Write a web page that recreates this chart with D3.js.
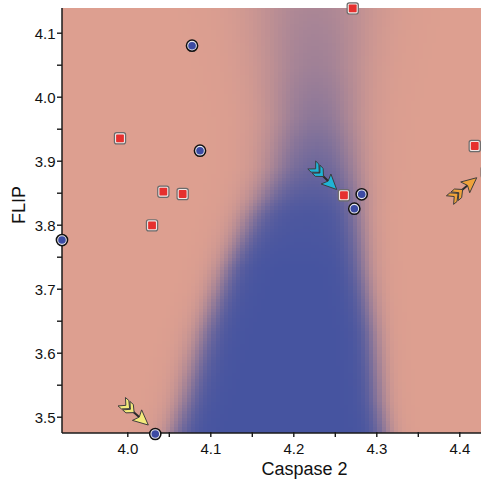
<!DOCTYPE html>
<html>
<head>
<meta charset="utf-8">
<script src="https://cdn.jsdelivr.net/npm/d3@7"></script>
<style>
  html, body { margin: 0; padding: 0; background: #fff; }
  svg { display: block; }
  text { font-family: "Liberation Sans", Arial, Helvetica, sans-serif; fill: #111; }
</style>
</head>
<body>
<svg id="chart" width="481" height="483"></svg>
<script>
// ---------- data ----------
// Blue (class) probability field
const fieldY     = [3.4745, 3.526, 3.631, 3.734, 3.818, 3.839, 3.890, 3.968, 4.046, 4.138];
const fieldLeft  = [4.0560, 4.070, 4.0920, 4.1200, 4.150, 4.160, 4.178, 4.186, 4.180, 4.170];
const fieldRight = [4.310, 4.3030, 4.2960, 4.2840, 4.278, 4.277, 4.272, 4.267, 4.270, 4.278];
const fieldPeak  = [1.0, 1.0, 1.0, 1.0, 0.96, 0.92, 0.8, 0.64, 0.5, 0.4];
const fieldSoftL = [0.010, 0.010, 0.010, 0.010, 0.012, 0.013, 0.015, 0.018, 0.021, 0.024];
const fieldSoftR = [0.008, 0.008, 0.008, 0.009, 0.010, 0.011, 0.013, 0.016, 0.019, 0.022];

// Class "blue" samples (circles)
const blueX = [4.078, 4.0876, 3.9213, 4.0337, 4.2824, 4.2735];
const blueY = [4.0797, 3.9156, 3.776, 3.473, 3.8475, 3.825];
// Class "red" samples (squares)
const redX = [3.9912, 4.0434, 4.0667, 4.0298, 4.2716, 4.261, 4.4186, 4.433];
const redY = [3.935, 3.8516, 3.848, 3.799, 4.138, 3.846, 3.923, 3.882];
// Arrows (tail -> tip)
const arrowName  = ["yellow", "cyan", "orange"];
const arrowTailX = [3.9933, 4.2222, 4.3888];
const arrowTailY = [3.5234, 3.8933, 3.8385];
const arrowTipX  = [4.0253, 4.2523, 4.421];
const arrowTipY  = [3.487, 3.855, 3.8734];

const xMajor = [4.0, 4.1, 4.2, 4.3, 4.4];
const xMinor = [4.05, 4.15, 4.25, 4.35];
const yMajor = [3.5, 3.6, 3.7, 3.8, 3.9, 4.0, 4.1];
const yMinor = [3.55, 3.65, 3.75, 3.85, 3.95, 4.05];
const xTitle = "Caspase 2";
const yTitle = "FLIP";

// ---------- styles ----------
const PINK = "rgb(221,159,144)";
const BLUE = "rgb(70,84,160)";
const arrowFill = { yellow: "#f3ea7c", cyan: "#1fb4d6", orange: "#eea23a" };

// ---------- layout ----------
const plot = { left: 62, top: 8, bottom: 433, right: 481 };
const x = d3.scaleLinear().domain([4.0, 4.4]).range([127.3, 459.3]);
const y = d3.scaleLinear().domain([3.5, 4.1]).range([416.7, 32.7]);

const svg = d3.select("#chart");
svg.append("defs").append("clipPath").attr("id", "plotClip")
  .append("rect")
  .attr("x", plot.left).attr("y", plot.top)
  .attr("width", plot.right - plot.left + 10).attr("height", plot.bottom - plot.top);

// ---------- field ----------
const leftAt  = d3.scaleLinear().domain(fieldY).range(fieldLeft).clamp(true);
const rightAt = d3.scaleLinear().domain(fieldY).range(fieldRight).clamp(true);
const peakAt  = d3.scaleLinear().domain(fieldY).range(fieldPeak).clamp(true);
const softLAt = d3.scaleLinear().domain(fieldY).range(fieldSoftL).clamp(true);
const softRAt = d3.scaleLinear().domain(fieldY).range(fieldSoftR).clamp(true);
const col = d3.interpolateRgb(PINK, BLUE);

const x0 = x.invert(plot.left), x1 = x.invert(plot.right + 6);
const y0 = y.invert(plot.bottom), y1 = y.invert(plot.top);
const dx = 0.005, dy = 0.005;
const cells = [];
for (let yv = y0; yv < y1 + dy; yv += dy) {
  const yc = yv + dy / 2;
  const L = leftAt(yc), R = rightAt(yc), P = peakAt(yc), sL = softLAt(yc), sR = softRAt(yc);
  for (let xv = x0; xv < x1; xv += dx) {
    const xc = xv + dx / 2;
    const fl = 1 / (1 + Math.exp(-(xc - L) / sL));
    const fr = 1 / (1 + Math.exp(-(R - xc) / sR));
    cells.push({ xv, yv, t: Math.min(1, P * fl * fr) });
  }
}
const field = svg.append("g").attr("clip-path", "url(#plotClip)");
field.append("rect")
  .attr("x", plot.left).attr("y", plot.top)
  .attr("width", plot.right - plot.left + 10).attr("height", plot.bottom - plot.top)
  .attr("fill", PINK);
field.selectAll("rect.cell").data(cells.filter(d => d.t > 0.004)).join("rect")
  .attr("class", "cell")
  .attr("x", d => x(d.xv))
  .attr("y", d => y(d.yv + dy))
  .attr("width", x(dx) - x(0) + 0.6)
  .attr("height", y(0) - y(dy) + 0.6)
  .attr("fill", d => col(d.t))
  .attr("shape-rendering", "crispEdges");

// ---------- axes ----------
const axisG = svg.append("g");
axisG.append("line").attr("x1", plot.left).attr("x2", plot.left)
  .attr("y1", plot.top).attr("y2", plot.bottom)
  .attr("stroke", "#1a1a1a").attr("stroke-width", 1.5);
axisG.append("line").attr("x1", plot.left).attr("x2", plot.right)
  .attr("y1", plot.bottom).attr("y2", plot.bottom)
  .attr("stroke", "#1a1a1a").attr("stroke-width", 1.5);

const xAxis = d3.axisBottom(x).tickValues(xMajor.concat(xMinor))
  .tickSize(5).tickSizeOuter(0)
  .tickFormat(d => xMajor.includes(d) ? d3.format(".1f")(d) : "");
const gx = svg.append("g").attr("transform", `translate(0,${plot.bottom - 1})`).call(xAxis);
gx.select(".domain").remove();
gx.selectAll(".tick line").attr("stroke", "#1a1a1a").attr("stroke-width", 1.4);
gx.selectAll(".tick text").attr("font-size", 15).attr("dy", 0).attr("y", 21.5)
  .attr("font-family", "Liberation Sans, Arial, sans-serif").attr("fill", "#111");

const yAxis = d3.axisLeft(y).tickValues(yMajor.concat(yMinor))
  .tickSize(5).tickSizeOuter(0)
  .tickFormat(d => yMajor.includes(d) ? d3.format(".1f")(d) : "");
const gy = svg.append("g").attr("transform", `translate(${plot.left},0)`).call(yAxis);
gy.select(".domain").remove();
gy.selectAll(".tick line").attr("stroke", "#1a1a1a").attr("stroke-width", 1.4);
gy.selectAll(".tick text").attr("font-size", 15).attr("x", -6.5).attr("dy", "0.36em")
  .attr("font-family", "Liberation Sans, Arial, sans-serif").attr("fill", "#111");

svg.append("text").attr("x", 304.5).attr("y", 475).attr("text-anchor", "middle")
  .attr("font-size", 18).text(xTitle);
svg.append("text").attr("transform", "translate(25,205) rotate(-90)").attr("text-anchor", "middle")
  .attr("font-size", 18).text(yTitle);

// ---------- markers ----------
const marks = svg.append("g");
const redPts = redX.map((v, i) => ({ x: v, y: redY[i] }));
const redG = marks.selectAll("g.red").data(redPts).join("g")
  .attr("class", "red")
  .attr("transform", d => `translate(${x(d.x)},${y(d.y)})`);
redG.append("rect").attr("x", -5.6).attr("y", -5.6).attr("width", 11.2).attr("height", 11.2)
  .attr("rx", 2.2).attr("fill", "#f1e6e4").attr("stroke", "#6b6b6b").attr("stroke-width", 1.2);
redG.append("rect").attr("x", -3.9).attr("y", -3.9).attr("width", 7.8).attr("height", 7.8)
  .attr("rx", 0.8).attr("fill", "#e6302e");

const bluePts = blueX.map((v, i) => ({ x: v, y: blueY[i] }));
const blueG = marks.selectAll("g.blue").data(bluePts).join("g")
  .attr("class", "blue")
  .attr("transform", d => `translate(${x(d.x)},${y(d.y)})`);
blueG.append("circle").attr("r", 5.6).attr("fill", "#e8e8f0").attr("stroke", "#111").attr("stroke-width", 1.5);
blueG.append("circle").attr("r", 3.8).attr("fill", "#3c4ba3");

// ---------- arrows ----------
const arrows = arrowName.map((n, i) => ({
  n, tx: x(arrowTailX[i]), ty: y(arrowTailY[i]), hx: x(arrowTipX[i]), hy: y(arrowTipY[i])
}));
const arrowG = marks.selectAll("g.arrow").data(arrows).join("g")
  .attr("class", "arrow")
  .attr("transform", d => {
    const ang = Math.atan2(d.hy - d.ty, d.hx - d.tx) * 180 / Math.PI;
    return `translate(${d.hx},${d.hy}) rotate(${ang})`;
  });
arrowG.each(function (d) {
  const g = d3.select(this);
  const L = Math.hypot(d.hx - d.tx, d.hy - d.ty);
  const fill = arrowFill[d.n];
  // shaft
  g.append("line").attr("x1", -L + 8).attr("x2", -11).attr("y1", 0).attr("y2", 0)
    .attr("stroke", "#2a2a2a").attr("stroke-width", 2);
  // fletching (two feather vanes)
  [-L, -L + 6].forEach(a => {
    g.append("path")
      .attr("d", `M${a},-5.6 L${a + 4.5},-5.6 L${a + 10.5},0 L${a + 4.5},5.6 L${a},5.6 L${a + 5.5},0 Z`)
      .attr("fill", fill).attr("stroke", "#3a3a3a").attr("stroke-width", 0.9).attr("stroke-linejoin", "round");
  });
  // head
  g.append("path").attr("d", `M0,0 L-15,-7 L-12,0 L-15,7 Z`)
    .attr("fill", fill).attr("stroke", "#3a3a3a").attr("stroke-width", 0.9).attr("stroke-linejoin", "round");
});
</script>
</body>
</html>
